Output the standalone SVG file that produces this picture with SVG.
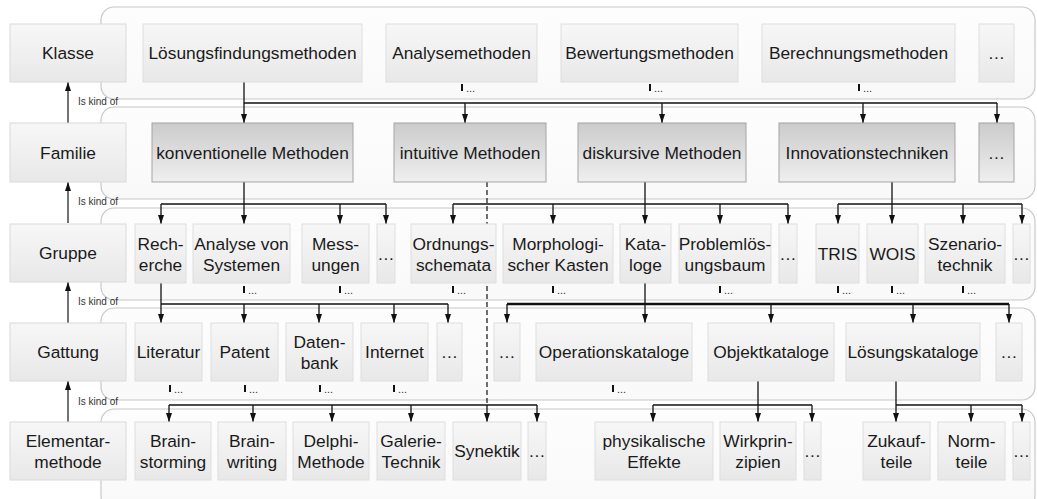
<svg xmlns="http://www.w3.org/2000/svg" width="1037" height="499" viewBox="0 0 1037 499">
<defs>
<linearGradient id="gb" x1="0" y1="0" x2="0" y2="1"><stop offset="0" stop-color="#fdfdfd"/><stop offset="1" stop-color="#f9f9f9"/></linearGradient>
<linearGradient id="gl" x1="0" y1="0" x2="0" y2="1"><stop offset="0" stop-color="#f7f7f7"/><stop offset="1" stop-color="#e8e8e8"/></linearGradient>
<linearGradient id="gd" x1="0" y1="0" x2="0" y2="1"><stop offset="0" stop-color="#cbcbcb"/><stop offset="1" stop-color="#efefef"/></linearGradient>
<marker id="ah" markerUnits="userSpaceOnUse" markerWidth="9" markerHeight="7" refX="9" refY="3.5" orient="auto"><path d="M0,0.5 L9,3.5 L0,6.5 z" fill="#111"/></marker>
<style>
.band{fill:url(#gb);stroke:#c8c8c8;stroke-width:1.2}
.lbl{fill:url(#gl);stroke:#dadada;stroke-width:1}
.n1{fill:url(#gl);stroke:#dedede;stroke-width:1}
.n2{fill:url(#gd);stroke:#a4a4a4;stroke-width:1}
text{font-family:"Liberation Sans",Arial,sans-serif;fill:#1a1a1a}
.t{font-size:17.33px;text-anchor:middle}
.dots{font-size:11px;fill:#333}
.kind{font-size:10px;fill:#333}
.c{stroke:#111;stroke-width:1.3;fill:none}
.ca{stroke:#111;stroke-width:1.3;fill:none;marker-end:url(#ah)}
.cb{stroke:#111;stroke-width:2.4;fill:none}
.cd{stroke:#111;stroke-width:1.2;fill:none;stroke-dasharray:5 3}
.k{stroke:#444;stroke-width:1.5;fill:none;marker-end:url(#ah)}
.stub{stroke:#111;stroke-width:2}
</style>
</defs>
<rect width="1037" height="499" fill="#fff"/>
<g id="bands">
<rect class="band" x="101" y="7" width="934" height="92" rx="13"/>
<rect class="band" x="101" y="107" width="934" height="92" rx="13"/>
<rect class="band" x="101" y="208" width="934" height="92" rx="13"/>
<rect class="band" x="101" y="308" width="934" height="92" rx="13"/>
<rect class="band" x="101" y="409" width="934" height="100" rx="13"/>
</g>
<g id="connectors">
<path class="c" d="M244,103 H997"/>
<path class="ca" d="M244,82 V123"/>
<path class="ca" d="M465,103 V123"/>
<path class="ca" d="M662,103 V123"/>
<path class="ca" d="M863,103 V123"/>
<path class="ca" d="M997,103 V123"/>
<path class="c" d="M161,204 H386"/>
<path class="ca" d="M244,182 V224"/>
<path class="ca" d="M161,204 V224"/>
<path class="ca" d="M340,204 V224"/>
<path class="ca" d="M386,204 V224"/>
<path class="c" d="M453,204 H788"/>
<path class="ca" d="M645,182 V224"/>
<path class="ca" d="M453,204 V224"/>
<path class="ca" d="M553,204 V224"/>
<path class="ca" d="M720,204 V224"/>
<path class="ca" d="M788,204 V224"/>
<path class="c" d="M838,204 H1022"/>
<path class="ca" d="M892,182 V224"/>
<path class="ca" d="M838,204 V224"/>
<path class="ca" d="M963,204 V224"/>
<path class="ca" d="M1022,204 V224"/>
<path class="cd" d="M487,182 V405"/>
<path class="c" d="M161,304 H448"/>
<path class="ca" d="M161,283 V323"/>
<path class="ca" d="M244,304 V323"/>
<path class="ca" d="M319,304 V323"/>
<path class="ca" d="M394,304 V323"/>
<path class="ca" d="M448,304 V323"/>
<path class="cb" d="M507,304 H1009"/>
<path class="ca" d="M645,283 V323"/>
<path class="ca" d="M507,304 V323"/>
<path class="ca" d="M771,304 V323"/>
<path class="ca" d="M913,304 V323"/>
<path class="ca" d="M1009,304 V323"/>
<path class="c" d="M169,405 H537"/>
<path class="ca" d="M169,405 V422"/>
<path class="ca" d="M253,405 V422"/>
<path class="ca" d="M332,405 V422"/>
<path class="ca" d="M411,405 V422"/>
<path class="ca" d="M487,405 V422"/>
<path class="ca" d="M537,405 V422"/>
<path class="c" d="M653,405 H812"/>
<path class="ca" d="M758,381 V422"/>
<path class="ca" d="M653,405 V422"/>
<path class="ca" d="M812,405 V422"/>
<path class="c" d="M896,405 H1022"/>
<path class="ca" d="M896,381 V422"/>
<path class="ca" d="M971,405 V422"/>
<path class="ca" d="M1022,405 V422"/>
<path class="k" d="M68,123 V82"/>
<path class="k" d="M68,223 V182"/>
<path class="k" d="M68,323 V282"/>
<path class="k" d="M68,422 V381"/>
<text class="kind" x="78" y="105">Is kind of</text>
<text class="kind" x="78" y="205">Is kind of</text>
<text class="kind" x="78" y="305">Is kind of</text>
<text class="kind" x="78" y="405">Is kind of</text>
<g id="stubs">
<path class="stub" d="M462,84 V91 M650,84 V91 M859,84 V91 M244,286 V293 M340,286 V293 M453,286 V293 M553,286 V293 M720,286 V293 M838,286 V293 M892,286 V293 M963,286 V293 M170,385 V392 M245,385 V392 M320,385 V392 M394,385 V392 M613,385 V392"/>
<text class="dots" x="466" y="92">...</text>
<text class="dots" x="654" y="92">...</text>
<text class="dots" x="863" y="92">...</text>
<text class="dots" x="248" y="294">...</text>
<text class="dots" x="344" y="294">...</text>
<text class="dots" x="457" y="294">...</text>
<text class="dots" x="557" y="294">...</text>
<text class="dots" x="724" y="294">...</text>
<text class="dots" x="842" y="294">...</text>
<text class="dots" x="896" y="294">...</text>
<text class="dots" x="967" y="294">...</text>
<text class="dots" x="174" y="393">...</text>
<text class="dots" x="249" y="393">...</text>
<text class="dots" x="324" y="393">...</text>
<text class="dots" x="398" y="393">...</text>
<text class="dots" x="617" y="393">...</text>
</g>
</g>
<g id="lbl-klasse"><rect class="lbl" x="10" y="24" width="116" height="58"/><text class="t" x="68" y="59">Klasse</text></g>
<g id="lbl-familie"><rect class="lbl" x="10" y="123" width="116" height="59"/><text class="t" x="68" y="158.5">Familie</text></g>
<g id="lbl-gruppe"><rect class="lbl" x="10" y="224" width="116" height="58"/><text class="t" x="68" y="259">Gruppe</text></g>
<g id="lbl-gattung"><rect class="lbl" x="10" y="323" width="116" height="58"/><text class="t" x="68" y="358">Gattung</text></g>
<g id="lbl-elementar"><rect class="lbl" x="10" y="422" width="116" height="58"/><text class="t" x="68" y="447">Elementar-</text><text class="t" x="68" y="468">methode</text></g>

<g id="k-loesung"><rect class="n1" x="143" y="24" width="219" height="58"/><text class="t" x="252.5" y="59">Lösungsfindungsmethoden</text></g>
<g id="k-analyse"><rect class="n1" x="386" y="24" width="151" height="58"/><text class="t" x="461.5" y="59">Analysemethoden</text></g>
<g id="k-bewertung"><rect class="n1" x="561" y="24" width="177" height="58"/><text class="t" x="649.5" y="59">Bewertungsmethoden</text></g>
<g id="k-berechnung"><rect class="n1" x="762" y="24" width="193" height="58"/><text class="t" x="858.5" y="59">Berechnungsmethoden</text></g>
<g id="k-more"><rect class="n1" x="979" y="24" width="35" height="58"/><text class="t" x="996.5" y="59">…</text></g>

<g id="f-konv"><rect class="n2" x="152" y="123" width="201" height="59"/><text class="t" x="252.5" y="158.5">konventionelle Methoden</text></g>
<g id="f-intuitiv"><rect class="n2" x="394" y="123" width="152" height="59"/><text class="t" x="470" y="158.5">intuitive Methoden</text></g>
<g id="f-diskursiv"><rect class="n2" x="578" y="123" width="168" height="59"/><text class="t" x="662" y="158.5">diskursive Methoden</text></g>
<g id="f-innov"><rect class="n2" x="779" y="123" width="176" height="59"/><text class="t" x="867" y="158.5">Innovationstechniken</text></g>
<g id="f-more"><rect class="n2" x="979" y="123" width="35" height="59"/><text class="t" x="996.5" y="158.5">…</text></g>

<g id="g-recherche"><rect class="n1" x="135" y="224" width="51" height="59"/><text class="t" x="160.5" y="249.5">Rech-</text><text class="t" x="160.5" y="270.5">erche</text></g>
<g id="g-analyse"><rect class="n1" x="193" y="224" width="97" height="59"/><text class="t" x="241.5" y="249.5">Analyse von</text><text class="t" x="241.5" y="270.5">Systemen</text></g>
<g id="g-messungen"><rect class="n1" x="302" y="224" width="67" height="59"/><text class="t" x="335.5" y="249.5">Mess-</text><text class="t" x="335.5" y="270.5">ungen</text></g>
<g id="g-more1"><rect class="n1" x="377" y="224" width="18" height="59"/><text class="t" x="386" y="259.5">…</text></g>
<g id="g-ordnung"><rect class="n1" x="411" y="224" width="85" height="59"/><text class="t" x="453.5" y="249.5">Ordnungs-</text><text class="t" x="453.5" y="270.5">schemata</text></g>
<g id="g-morph"><rect class="n1" x="503" y="224" width="110" height="59"/><text class="t" x="558" y="249.5">Morphologi-</text><text class="t" x="558" y="270.5">scher Kasten</text></g>
<g id="g-kataloge"><rect class="n1" x="620" y="224" width="51" height="59"/><text class="t" x="645.5" y="249.5">Kata-</text><text class="t" x="645.5" y="270.5">loge</text></g>
<g id="g-problem"><rect class="n1" x="679" y="224" width="92" height="59"/><text class="t" x="725" y="249.5">Problemlös-</text><text class="t" x="725" y="270.5">ungsbaum</text></g>
<g id="g-more2"><rect class="n1" x="779" y="224" width="18" height="59"/><text class="t" x="788" y="259.5">…</text></g>
<g id="g-tris"><rect class="n1" x="816" y="224" width="43" height="59"/><text class="t" x="837.5" y="259.5">TRIS</text></g>
<g id="g-wois"><rect class="n1" x="867" y="224" width="51" height="59"/><text class="t" x="892.5" y="259.5">WOIS</text></g>
<g id="g-szenario"><rect class="n1" x="925" y="224" width="80" height="59"/><text class="t" x="965" y="249.5">Szenario-</text><text class="t" x="965" y="270.5">technik</text></g>
<g id="g-more3"><rect class="n1" x="1013" y="224" width="17" height="59"/><text class="t" x="1021.5" y="259.5">…</text></g>

<g id="a-literatur"><rect class="n1" x="135" y="323" width="67" height="58"/><text class="t" x="168.5" y="358">Literatur</text></g>
<g id="a-patent"><rect class="n1" x="211" y="323" width="67" height="58"/><text class="t" x="244.5" y="358">Patent</text></g>
<g id="a-datenbank"><rect class="n1" x="286" y="323" width="67" height="58"/><text class="t" x="319.5" y="347.5">Daten-</text><text class="t" x="319.5" y="368.5">bank</text></g>
<g id="a-internet"><rect class="n1" x="361" y="323" width="67" height="58"/><text class="t" x="394.5" y="358">Internet</text></g>
<g id="a-more1"><rect class="n1" x="437" y="323" width="25" height="58"/><text class="t" x="449.5" y="358">…</text></g>
<g id="a-more2"><rect class="n1" x="494" y="323" width="26" height="58"/><text class="t" x="507" y="358">…</text></g>
<g id="a-operation"><rect class="n1" x="536" y="323" width="156" height="58"/><text class="t" x="614" y="358">Operationskataloge</text></g>
<g id="a-objekt"><rect class="n1" x="708" y="323" width="126" height="58"/><text class="t" x="771" y="358">Objektkataloge</text></g>
<g id="a-loesung"><rect class="n1" x="846" y="323" width="134" height="58"/><text class="t" x="913" y="358">Lösungskataloge</text></g>
<g id="a-more3"><rect class="n1" x="996" y="323" width="26" height="58"/><text class="t" x="1009" y="358">…</text></g>

<g id="e-brainstorming"><rect class="n1" x="135" y="422" width="76" height="58"/><text class="t" x="173" y="447">Brain-</text><text class="t" x="173" y="468">storming</text></g>
<g id="e-brainwriting"><rect class="n1" x="218" y="422" width="68" height="58"/><text class="t" x="252" y="447">Brain-</text><text class="t" x="252" y="468">writing</text></g>
<g id="e-delphi"><rect class="n1" x="293" y="422" width="76" height="58"/><text class="t" x="331" y="447">Delphi-</text><text class="t" x="331" y="468">Methode</text></g>
<g id="e-galerie"><rect class="n1" x="377" y="422" width="68" height="58"/><text class="t" x="411" y="447">Galerie-</text><text class="t" x="411" y="468">Technik</text></g>
<g id="e-synektik"><rect class="n1" x="453" y="422" width="68" height="58"/><text class="t" x="487" y="457">Synektik</text></g>
<g id="e-more1"><rect class="n1" x="528" y="422" width="18" height="58"/><text class="t" x="537" y="457">…</text></g>
<g id="e-physik"><rect class="n1" x="595" y="422" width="118" height="58"/><text class="t" x="654" y="447">physikalische</text><text class="t" x="654" y="468">Effekte</text></g>
<g id="e-wirk"><rect class="n1" x="720" y="422" width="76" height="58"/><text class="t" x="758" y="447">Wirkprin-</text><text class="t" x="758" y="468">zipien</text></g>
<g id="e-more2"><rect class="n1" x="804" y="422" width="17" height="58"/><text class="t" x="812.5" y="457">…</text></g>
<g id="e-zukauf"><rect class="n1" x="863" y="422" width="67" height="58"/><text class="t" x="896.5" y="447">Zukauf-</text><text class="t" x="896.5" y="468">teile</text></g>
<g id="e-norm"><rect class="n1" x="938" y="422" width="67" height="58"/><text class="t" x="971.5" y="447">Norm-</text><text class="t" x="971.5" y="468">teile</text></g>
<g id="e-more3"><rect class="n1" x="1013" y="422" width="17" height="58"/><text class="t" x="1021.5" y="457">…</text></g>
</svg>
